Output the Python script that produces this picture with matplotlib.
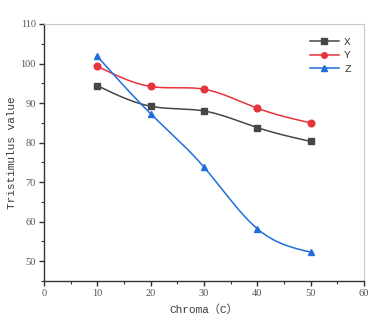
import numpy as np
import matplotlib
matplotlib.use("Agg")
import matplotlib.pyplot as plt
from matplotlib.ticker import MultipleLocator

chroma = [10, 20, 30, 40, 50]
x_vals = [94.4, 89.2, 88.0, 83.8, 80.3]
y_vals = [99.3, 94.2, 93.5, 88.7, 85.0]
z_vals = [101.8, 87.3, 73.8, 58.2, 52.3]

series_names = ["X", "Y", "Z"]
colors = ["#464646", "#e8333b", "#1e6fdc"]
markers = ["s", "o", "^"]


def smooth(xs, ys, n=300):
    """Natural cubic spline through the given points."""
    xs = np.asarray(xs, float)
    ys = np.asarray(ys, float)
    k = len(xs)
    h = np.diff(xs)
    A = np.zeros((k, k))
    b = np.zeros(k)
    A[0, 0] = A[-1, -1] = 1
    for i in range(1, k - 1):
        A[i, i - 1] = h[i - 1]
        A[i, i] = 2 * (h[i - 1] + h[i])
        A[i, i + 1] = h[i]
        b[i] = 6 * ((ys[i + 1] - ys[i]) / h[i] - (ys[i] - ys[i - 1]) / h[i - 1])
    M = np.linalg.solve(A, b)
    xx = np.linspace(xs[0], xs[-1], n)
    idx = np.clip(np.searchsorted(xs, xx) - 1, 0, k - 2)
    x0, x1 = xs[idx], xs[idx + 1]
    hi = h[idx]
    yy = (M[idx] * (x1 - xx) ** 3 / (6 * hi) + M[idx + 1] * (xx - x0) ** 3 / (6 * hi)
          + (ys[idx] / hi - M[idx] * hi / 6) * (x1 - xx)
          + (ys[idx + 1] / hi - M[idx + 1] * hi / 6) * (xx - x0))
    return xx, yy


serif = ["Liberation Serif", "Noto Sans CJK SC"]
mono = ["Liberation Mono", "Noto Sans CJK SC"]
text_color = "#3a3a3a"

fig = plt.figure(figsize=(3.76, 3.25), dpi=100)
ax = fig.add_axes([44 / 376, 1 - 281 / 325, 320 / 376, 257 / 325])

for name, vals, c, mk in zip(series_names, [x_vals, y_vals, z_vals], colors, markers):
    sx, sy = smooth(chroma, vals)
    ax.plot(sx, sy, color=c, lw=1.1)
    ax.plot(chroma, vals, linestyle="none", marker=mk, color=c, markersize=4.8)
    ax.plot([], [], color=c, lw=1.1, marker=mk, markersize=4, label=name)

ax.set_xlim(0, 60)
ax.set_ylim(45, 110)
ax.xaxis.set_major_locator(MultipleLocator(10))
ax.xaxis.set_minor_locator(MultipleLocator(5))
ax.yaxis.set_major_locator(MultipleLocator(10))
ax.yaxis.set_minor_locator(MultipleLocator(5))

for side in ["top", "right"]:
    ax.spines[side].set_color("#c8c8c8")
    ax.spines[side].set_linewidth(0.8)
for side in ["left", "bottom"]:
    ax.spines[side].set_color("#333333")
    ax.spines[side].set_linewidth(1.0)

ax.tick_params(which="major", direction="out", length=3.5, width=1.0,
               color="#333333", labelsize=7.5, labelcolor="#555555", pad=2.5)
ax.tick_params(which="minor", direction="out", length=2, width=0.8, color="#333333")
for lab in ax.get_xticklabels() + ax.get_yticklabels():
    lab.set_family(serif)

ax.set_xlabel("Chroma（C）", fontsize=8, family=mono, color=text_color, labelpad=4)
ax.set_ylabel("Tristimulus value", fontsize=8, family=mono, color=text_color)
ax.yaxis.set_label_coords(-27 / 320, 0.5)

leg = ax.legend(loc="upper right", frameon=False, handlelength=2.6,
                handletextpad=0.5, labelspacing=0.35, borderaxespad=0.5,
                bbox_to_anchor=(0.99, 0.99), prop={"family": mono, "size": 8})
for t in leg.get_texts():
    t.set_color(text_color)

fig.savefig("out.png", dpi=100)
